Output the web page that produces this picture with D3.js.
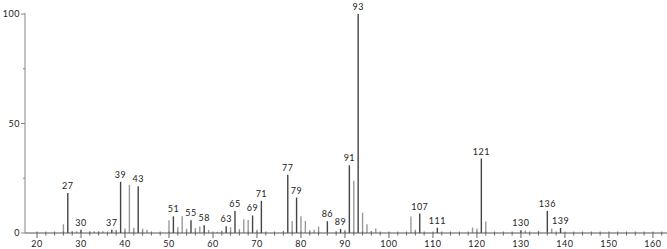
<!DOCTYPE html>
<html>
<head>
<meta charset="utf-8">
<script src="https://cdn.jsdelivr.net/npm/d3@7"></script>
<style>
body { margin: 0; background: #fff; }
svg { display: block; }
text { font-family: Lato, "Open Sans", sans-serif; font-size: 9px; fill: #222; }
</style>
</head>
<body>
<svg width="667" height="249"></svg>
<script>
// m/z values and relative intensities
var mz = [26, 27, 28, 29, 30, 32, 33, 34, 35, 37, 38, 39, 40, 41, 42, 43, 44, 45,
    50, 51, 52, 53, 54, 55, 56, 57, 58, 59, 61, 62, 63, 64, 65, 66, 67, 68, 69, 70, 71,
    76, 77, 78, 79, 80, 81, 82, 83, 84, 86, 88, 89, 90, 91, 92, 93, 94, 95, 96, 97,
    105, 106, 107, 111, 119, 120, 121, 122, 130, 131, 134, 136, 137, 139];
var intensity = [4, 18.3, 0.8, 0.8, 1.5, 0.7, 0.8, 0.7, 0.8, 1.5, 1.5, 23.4, 2, 22, 2.4, 21.4, 2, 1.5,
    5.8, 7.6, 2.6, 7.6, 2, 5.8, 2.3, 3, 3.5, 1.4, 0.5, 1, 3.1, 2.6, 10, 1.8, 6.3, 5.9, 8, 1.5, 14.7,
    1, 26.6, 5.5, 16.2, 7.6, 5.5, 1.2, 1.5, 2.9, 5.4, 0.8, 1.8, 1.4, 30.9, 23.9, 100, 9.3, 4, 0.9, 2.1,
    7.5, 1.5, 8.9, 2.4, 2.5, 2, 34, 5.2, 1.2, 1.2, 1, 10.1, 2.1, 2.3];
var labelled = [27, 30, 37, 39, 43, 51, 55, 58, 63, 65, 69, 71, 77, 79, 86, 89, 91, 93,
    107, 111, 121, 130, 136, 139];
var xTicks = [20, 30, 40, 50, 60, 70, 80, 90, 100, 110, 120, 130, 140, 150, 160];
var yTicks = [0, 50, 100];

var svg = d3.select("svg"),
    margin = {top: 14, right: 0, bottom: 17, left: 25},
    width = +svg.attr("width") - margin.left - margin.right,
    height = +svg.attr("height") - margin.top - margin.bottom;

var x = d3.scaleLinear().domain([17.27, 163.2]).range([0, width]);
var y = d3.scaleLinear().domain([0, 100]).range([height + 1, 0]);

var g = svg.append("g").attr("transform", "translate(" + margin.left + "," + margin.top + ")");

var peaks = mz.map(function(d, i) { return {mz: d, v: intensity[i]}; });

// sticks
g.selectAll(".peak")
    .data(peaks)
    .enter().append("line")
    .attr("x1", function(d) { return x(d.mz); })
    .attr("x2", function(d) { return x(d.mz); })
    .attr("y1", y(0))
    .attr("y2", function(d) { return y(d.v); })
    .attr("stroke", function(d) { return labelled.indexOf(d.mz) >= 0 ? "#444" : "#999"; })
    .attr("stroke-width", 1.4);

// peak labels
g.selectAll(".plabel")
    .data(peaks.filter(function(d) { return labelled.indexOf(d.mz) >= 0; }))
    .enter().append("text")
    .attr("x", function(d) { return x(d.mz); })
    .attr("y", function(d) { return y(d.v) - 4; })
    .attr("text-anchor", "middle")
    .style("letter-spacing", "0.5px")
    .text(function(d) { return d.mz; });

// x axis
var xa = g.append("g").attr("transform", "translate(0," + y(0) + ")");
xa.append("line").attr("x1", 0).attr("x2", width).attr("stroke", "#555");
xa.selectAll(".minor")
    .data(d3.range(20, 164, 2))
    .enter().append("line")
    .attr("x1", function(d) { return x(d); })
    .attr("x2", function(d) { return x(d); })
    .attr("y1", -1.5)
    .attr("y2", function(d) { return d % 10 === 0 ? 5 : 2.5; })
    .attr("stroke", "#666");
xa.selectAll(".xl")
    .data(xTicks)
    .enter().append("text")
    .attr("x", function(d) { return x(d); })
    .attr("y", 14)
    .attr("text-anchor", "middle")
    .style("letter-spacing", "0.5px")
    .text(function(d) { return d; });

// y axis
var ya = g.append("g");
ya.append("line").attr("y1", y(0)).attr("y2", y(100) - 1).attr("stroke", "#888");
ya.selectAll(".yt")
    .data([0, 25, 50, 75, 100])
    .enter().append("line")
    .attr("x1", function(d) { return d % 50 === 0 ? -4 : -2; })
    .attr("x2", 0)
    .attr("y1", function(d) { return y(d); })
    .attr("y2", function(d) { return y(d); })
    .attr("stroke", "#888");
ya.selectAll(".yl")
    .data(yTicks)
    .enter().append("text")
    .attr("x", -5)
    .attr("y", function(d) { return y(d) + 3; })
    .attr("text-anchor", "end")
    .style("letter-spacing", "0.5px")
    .text(function(d) { return d; });
</script>
</body>
</html>
